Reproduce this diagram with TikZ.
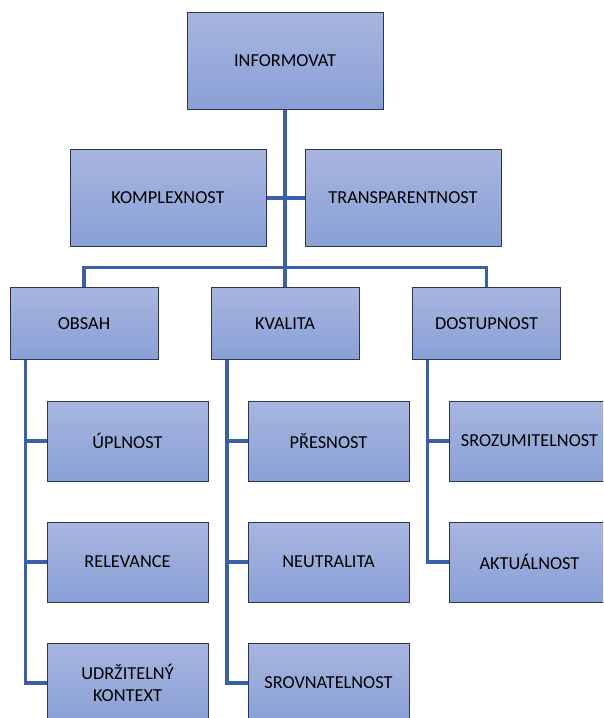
\documentclass[tikz,border=0pt]{standalone}
\usepackage{fontspec}
\setmainfont{Carlito}
\definecolor{boxtop}{RGB}{168,181,223}
\definecolor{boxbottom}{RGB}{137,160,214}
\definecolor{boxline}{RGB}{45,54,80}
\definecolor{linkblue}{RGB}{60,95,170}
\tikzset{
  block/.style={rectangle, draw=boxline, line width=1pt, top color=boxtop, bottom color=boxbottom,
    align=center, font=\fontsize{18.3}{21.5}\selectfont, inner sep=0pt},
  bigbox/.style={block, minimum width=196pt, minimum height=97pt},
  midbox/.style={block, minimum width=148pt, minimum height=72pt},
  leafbox/.style={block, minimum width=161pt, minimum height=80pt},
  link/.style={draw=linkblue, line width=3.2pt}
}
\begin{document}
\begin{tikzpicture}[x=1pt,y=-1pt]
            \useasboundingbox (0,0) rectangle (603,718);
            \clip (0,0) rectangle (603,718);
            % top level
            \node[bigbox] (info) at (285,60.5) {INFORMOVAT};
            \node[bigbox] (komp) at (168,198) {KOMPLEXNOST};
            \node[bigbox] (trans) at (403,198) {TRANSPARENTNOST};
            % middle level
            \node[midbox] (obsah) at (84,323.5) {OBSAH};
            \node[midbox] (kval) at (285,323.5) {KVALITA};
            \node[midbox] (dost) at (486.5,323.5) {DOSTUPNOST};
            % leaves
            \node[leafbox] (upl) at (127.5,441) {ÚPLNOST};
            \node[leafbox] (rel) at (127.5,562) {RELEVANCE};
            \node[leafbox] (udr) at (127.5,683) {UDRŽITELNÝ\\KONTEXT};
            \node[leafbox] (pres) at (328.5,441) {PŘESNOST};
            \node[leafbox] (neut) at (328.5,562) {NEUTRALITA};
            \node[leafbox] (srov) at (328.5,683) {SROVNATELNOST};
            \node[leafbox] (sroz) at (529.5,441) {SROZUMITELNOST};
            \node[leafbox] (akt) at (529.5,562) {AKTUÁLNOST};
            % links
            \coordinate (hub) at (285,267.5);
            \draw[link] (info.south) -- (kval.north);
            \draw[link] (komp.east) -- (trans.west);
            \draw[link] (obsah.north) |- (hub) -| (dost.north);
            \draw[link] ([xshift=16pt]obsah.south west) |- (upl.west);
            \draw[link] ([xshift=16pt]obsah.south west) |- (rel.west);
            \draw[link] ([xshift=16pt]obsah.south west) |- (udr.west);
            \draw[link] ([xshift=16.5pt]kval.south west) |- (pres.west);
            \draw[link] ([xshift=16.5pt]kval.south west) |- (neut.west);
            \draw[link] ([xshift=16.5pt]kval.south west) |- (srov.west);
            \draw[link] ([xshift=15.5pt]dost.south west) |- (sroz.west);
            \draw[link] ([xshift=15.5pt]dost.south west) |- (akt.west);
        \end{tikzpicture}
\end{document}
